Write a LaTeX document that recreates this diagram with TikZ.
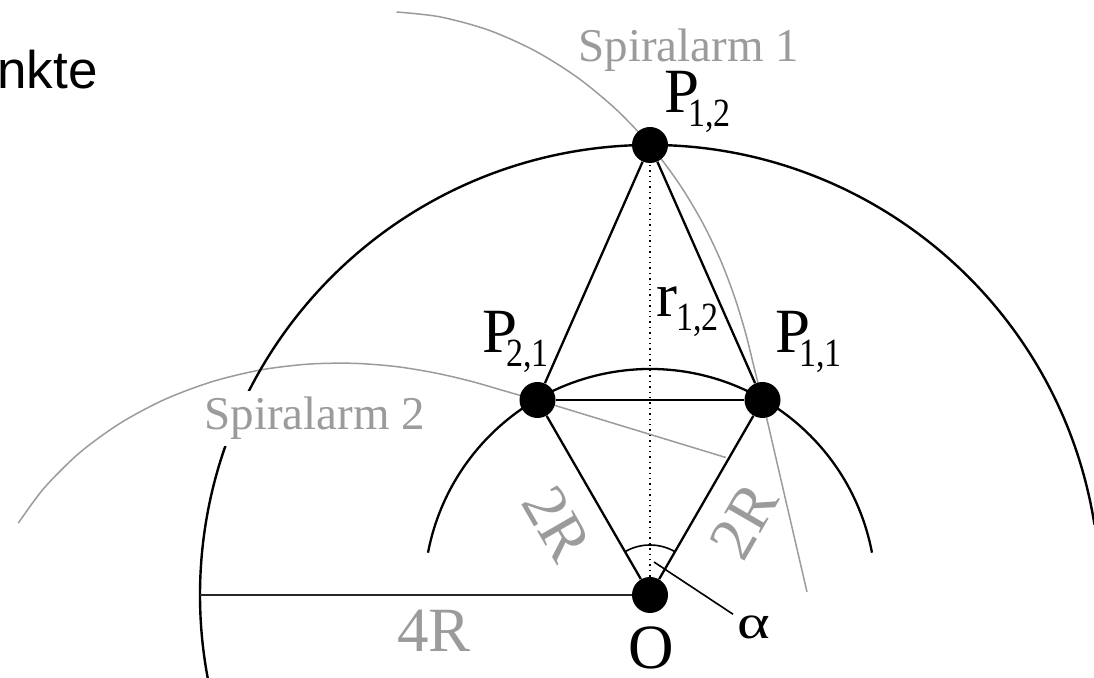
\documentclass[tikz,border=0pt]{standalone}
\usepackage{fontspec}
\setmainfont{Liberation Serif}
\newfontfamily\sansf{Liberation Sans}
\definecolor{lgray}{RGB}{155,155,155}
\newcommand{\subtxt}[1]{\raisebox{-7pt}{\scalebox{0.85}[1]{\fontsize{20}{20}\selectfont #1}}}
\begin{document}
\begin{tikzpicture}[x=0.5pt,y=-0.5pt,
  dot/.style={circle,fill=black,inner sep=0pt,minimum size=18pt},
  spiral/.style={lgray,line width=0.75pt},
  edge/.style={black,line width=1.15pt},
  biglbl/.style={font=\fontsize{31.5}{31.5}\selectfont,inner sep=0pt},
  glabel/.style={lgray,font=\fontsize{23.5}{23.5}\selectfont,inner sep=0pt}
]
\useasboundingbox (0,0) rectangle (1094,678);
\clip (0,0) rectangle (1094,678);

\coordinate (O) at (650,595);
\coordinate (L) at (200,595);
\coordinate (atip) at (654,562);
\coordinate (tailend) at (807,592);

% spiral arms
\draw[spiral] plot[smooth] coordinates {(396.5,12.0) (439.6,16.8) (488.0,29.9) (534.3,50.5) (577.2,77.3) (616.0,109.3) (650,145) (678.8,183.2) (702.4,222.4) (721.0,261.2) (735.0,298.3) (745.5,332.7) (753.1,363.3) (758.0,383.1) (762.5,400.1)} -- (tailend);
\begin{scope}[rotate around={60:(O)}]
\draw[spiral] plot[smooth] coordinates {(396.5,12.0) (439.6,16.8) (488.0,29.9) (534.3,50.5) (577.2,77.3) (616.0,109.3) (650,145) (678.8,183.2) (702.4,222.4) (721.0,261.2) (735.0,298.3) (745.5,332.7) (753.1,363.3) (758.0,383.1) (762.5,400.1)} -- (807,592);
\end{scope}

% circles
\draw[line width=1.2pt] ([shift={(9:225pt)}]O) arc[start angle=9,end angle=192,radius=225pt];
\draw[line width=1.15pt] ([shift={(10.8:113pt)}]O) arc[start angle=10.8,end angle=169.2,radius=113pt];

% points
\node[dot] (nO) at (O) {};
\node[dot] (P11) at (762.5,400) {};
\node[dot] (P21) at (537.5,400) {};
\node[dot] (P12) at (650,145) {};

% lines
\draw[line width=1.2pt, black!85] (L) -- (nO);
\draw[edge] (nO) -- (P21) -- (P12) -- (P11) -- (nO);
\draw[edge] (P21) -- (P11);
\draw[dotted, line width=0.7pt] (nO) -- (P12);
\draw[line width=0.8pt] ([shift={(60:25pt)}]O) arc[start angle=60,end angle=120,radius=25pt];

% labels
\node[anchor=base west, inner sep=0pt, font=\sansf\fontsize{26.5}{26.5}\selectfont] (tx) at (-3,89) {nkte};
\node[glabel, anchor=base west] (s1) at (578,62) {Spiralarm 1};
\node[glabel, anchor=base west, fill=white, inner sep=3pt] (s2) at (198,430) {Spiralarm 2};
\node[biglbl, anchor=base west] (lP12) at (664,113) {P\kern-5.5pt\subtxt{1,2}};
\node[biglbl, anchor=base west] (lP21) at (482,353) {P\kern-5.5pt\subtxt{2,1}};
\node[biglbl, anchor=base west] (lP11) at (775,353) {P\kern-5.5pt\subtxt{1,1}};
\node[biglbl, anchor=base west] (lr) at (656,317) {r\kern-0.5pt\subtxt{1,2}};
\node[biglbl, anchor=base west] (lO) at (628,669) {O};
\node[biglbl, lgray, anchor=base west] (l4R) at (397,652) {4R};
\node[biglbl, lgray, rotate=-60] (l2Ra) at (557,524) {2R};
\node[biglbl, lgray, rotate=60] (l2Rb) at (744,521) {2R};
\node[anchor=base west, fill=white, inner sep=2pt, font=\fontsize{24}{24}\selectfont] (alpha) at (733,639) {\scalebox{1.3}[1]{α}};
\draw[line width=0.8pt] (atip) -- (alpha);
\end{tikzpicture}
\end{document}
